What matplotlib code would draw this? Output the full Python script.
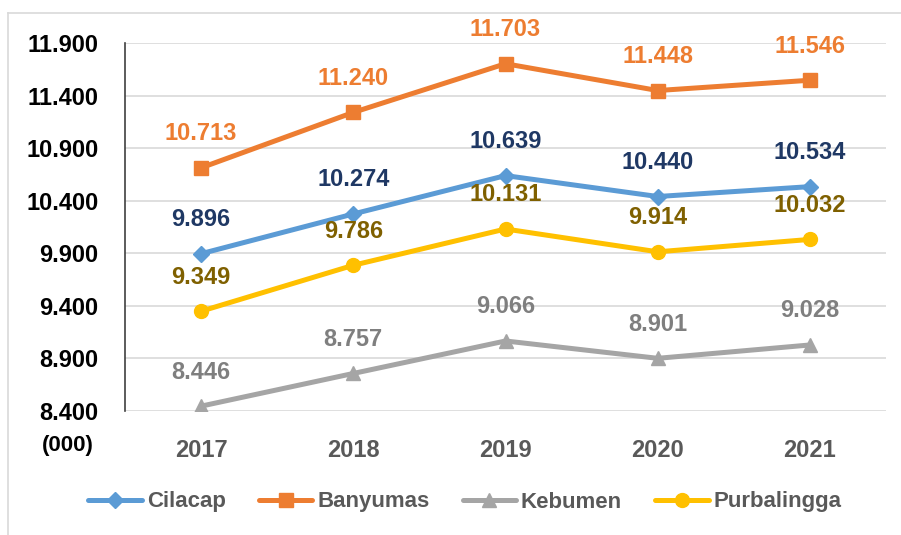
import matplotlib.pyplot as plt
from matplotlib.lines import Line2D

years = ['2017', '2018', '2019', '2020', '2021']
cilacap = [9896, 10274, 10639, 10440, 10534]
banyumas = [10713, 11240, 11703, 11448, 11546]
kebumen = [8446, 8757, 9066, 8901, 9028]
purbalingga = [9349, 9786, 10131, 9914, 10032]
yticks = [8400, 8900, 9400, 9900, 10400, 10900, 11400, 11900]

plt.rcParams['font.family'] = ['Liberation Sans', 'DejaVu Sans']
plt.rcParams['font.weight'] = 'bold'

fig = plt.figure(figsize=(9.01, 5.35), dpi=100)
ax = fig.add_axes([0.1387, 0.2318, 0.8447, 0.6878])

# light frame around chart (top and left visible)
fig.add_artist(Line2D([8/901, 1], [1-13/535, 1-13/535], color='#d9d9d9', lw=1.2))
fig.add_artist(Line2D([8/901, 8/901], [0, 1-13/535], color='#d9d9d9', lw=1.2))

x = range(len(years))
series = [
    ('Cilacap', cilacap, '#5b9bd5', 'D', 8, '#1f3864'),
    ('Banyumas', banyumas, '#ed7d31', 's', 10, '#ed7d31'),
    ('Kebumen', kebumen, '#a5a5a5', '^', 10, '#7f7f7f'),
    ('Purbalingga', purbalingga, '#ffc000', 'o', 10, '#7f6000'),
]

for name, vals, col, mk, ms, lcol in series:
    ax.plot(x, vals, color=col, lw=3.6, marker=mk, markersize=ms, label=name,
            solid_capstyle='round', zorder=3)
    for i, v in enumerate(vals):
        ax.annotate(f'{v/1000:.3f}', (i, v), xytext=(0, 24.5), textcoords='offset points',
                    ha='center', va='center', fontsize=17, fontweight='bold', color=lcol)

ax.set_xlim(-0.5, 4.5)
ax.set_ylim(8400, 11900)
ax.set_yticks(yticks)
ax.set_yticklabels([f'{t/1000:.3f}' for t in yticks], fontsize=17, fontweight='bold', color='black')
ax.set_xticks(list(x))
ax.set_xticklabels(years, fontsize=17, fontweight='bold', color='#595959')
ax.tick_params(axis='both', length=0)
ax.tick_params(axis='y', pad=19)
ax.tick_params(axis='x', pad=20)
ax.grid(axis='y', color='#d9d9d9', lw=1.2)
ax.set_axisbelow(True)
for s in ['top', 'right', 'bottom']:
    ax.spines[s].set_visible(False)
ax.spines['left'].set_color('#404040')
ax.spines['left'].set_linewidth(1.2)

fig.text(68/901, 1-445/535, '(000)', ha='center', va='center', fontsize=16,
         fontweight='bold', color='black')

leg = fig.legend(loc='center', bbox_to_anchor=(465/901, 1-502/535), ncol=4, frameon=False,
                 fontsize=16, handlelength=2.4, columnspacing=1.5, handletextpad=0.22)
for t in leg.get_texts():
    t.set_color('#595959')
    t.set_fontweight('bold')

fig.savefig('out.png', dpi=100)
